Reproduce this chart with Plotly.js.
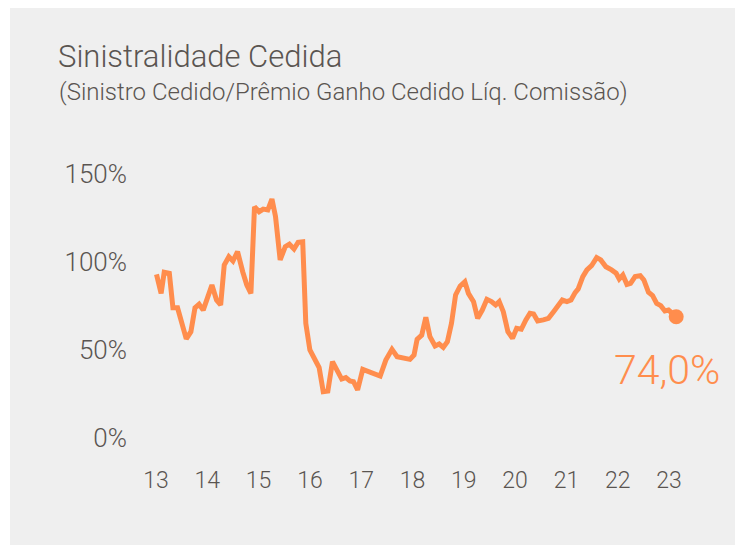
<!DOCTYPE html>
<html>
<head>
<meta charset="utf-8">
<script src="https://cdn.plot.ly/plotly-3.0.1.min.js"></script>
<style>
  html, body { margin: 0; padding: 0; background: #ffffff; }
  #chart { width: 735px; height: 547px; }
</style>
</head>
<body>
<div id="chart"></div>
<script>
// Period in decimal years (13 = 2013)
const periods = [
  13.01, 13.10, 13.16, 13.26, 13.33, 13.42, 13.59, 13.68, 13.76, 13.84, 13.92,
  14.01, 14.09, 14.18, 14.26, 14.33, 14.42, 14.50, 14.59, 14.69, 14.77, 14.85, 14.92,
  15.01, 15.09, 15.18, 15.26, 15.33, 15.42, 15.52, 15.60, 15.69, 15.77, 15.86, 15.92,
  16.00, 16.10, 16.18, 16.26, 16.35, 16.44, 16.54, 16.62, 16.70, 16.78, 16.85, 16.93,
  17.03, 17.14, 17.27, 17.37, 17.48, 17.60, 17.70, 17.85, 17.95,
  18.03, 18.09, 18.18, 18.26, 18.34, 18.44, 18.52, 18.60, 18.68, 18.76, 18.84, 18.93,
  19.02, 19.09, 19.19, 19.27, 19.36, 19.45, 19.54, 19.62, 19.69, 19.77, 19.86, 19.95,
  20.03, 20.12, 20.21, 20.29, 20.36, 20.44, 20.55, 20.65, 20.75, 20.84, 20.92,
  21.01, 21.09, 21.17, 21.23, 21.32, 21.40, 21.49, 21.59, 21.67, 21.77, 21.88, 21.97,
  22.03, 22.10, 22.18, 22.25, 22.34, 22.44, 22.51, 22.60, 22.68, 22.76, 22.84, 22.92, 22.99,
  23.05, 23.14
];
// Sinistralidade cedida (%)
const values = [
  98.1, 87.3, 99.3, 98.7, 79.1, 79.1, 61.4, 65.5, 79.1, 81.1, 77.8,
  85.4, 92.0, 83.5, 80.7, 103.4, 108.1, 105.7, 111.0, 99.6, 92.0, 87.3, 136.5,
  133.7, 135.2, 134.7, 140.9, 130.9, 106.3, 113.8, 115.2, 112.5, 116.3, 116.6, 70.3,
  55.1, 49.4, 45.1, 31.4, 31.8, 48.5, 42.8, 38.6, 39.4, 37.5, 37.1, 32.4,
  44.1, 42.8, 41.9, 40.3, 49.4, 55.5, 51.3, 50.7, 49.8,
  52.3, 61.2, 63.6, 73.7, 62.7, 57.4, 58.5, 56.6, 59.8, 70.3, 86.4, 91.5,
  93.9, 87.3, 82.6, 73.1, 77.8, 83.9, 82.6, 80.7, 82.6, 76.9, 65.5, 61.8,
  67.4, 66.9, 72.2, 76.0, 75.6, 71.6, 72.2, 73.1, 76.9, 80.1, 83.5,
  82.6, 83.5, 87.7, 89.8, 96.8, 100.6, 103.0, 107.6, 106.3, 102.4, 100.6, 98.7,
  95.5, 97.7, 92.4, 93.0, 96.8, 97.3, 94.9, 87.9, 86.0, 81.6, 80.3, 77.3, 77.8,
  76.0, 74.0
];
const xTickVals = [13, 14, 15, 16, 17, 18, 19, 20, 21, 22, 23];
const xTickLabels = ['13', '14', '15', '16', '17', '18', '19', '20', '21', '22', '23'];
const yTickVals = [0, 50, 100, 150];
const yTickLabels = ['0%', '50%', '100%', '150%'];

const orange = '#FF8D4D';
const textGray = '#5a5551';
const fontFam = 'Roboto, "Open Sans", sans-serif';

const lastX = periods[periods.length - 1];
const lastY = values[values.length - 1];

const traces = [
  {
    x: periods, y: values, type: 'scatter', mode: 'lines',
    line: { color: orange, width: 5, shape: 'linear' },
    hoverinfo: 'skip', showlegend: false
  },
  {
    x: [lastX], y: [lastY], type: 'scatter', mode: 'markers',
    marker: { color: orange, size: 15 },
    hoverinfo: 'skip', showlegend: false
  }
];

const L = 140, R = 35, T = 150, B = 87;
const W = 735, H = 547;
const pw = W - L - R, ph = H - T - B;
const px = v => (v - L) / pw;
const py = v => (H - B - v) / ph;

const layout = {
  width: W, height: H,
  margin: { l: L, r: R, t: T, b: B, pad: 0 },
  paper_bgcolor: '#ffffff',
  plot_bgcolor: 'rgba(0,0,0,0)',
  font: { family: fontFam, color: textGray },
  title: {
    text: 'Sinistralidade Cedida',
    font: { family: fontFam, size: 31, color: textGray, weight: 300 },
    x: 58 / W, xanchor: 'left', xref: 'container',
    y: 1 - 56 / H, yanchor: 'middle', yref: 'container'
  },
  xaxis: {
    range: [13 - 16 / 51.3, 23 + 31 / 51.3],
    tickmode: 'array', tickvals: xTickVals, ticktext: xTickLabels,
    showgrid: false, zeroline: false, showline: false, ticks: '',
    tickfont: { family: fontFam, size: 23, color: textGray, weight: 300 },
    ticklabelstandoff: 4,
    fixedrange: true
  },
  yaxis: {
    range: [-13 / 1.76, (447 - 150) / 1.76],
    tickmode: 'array', tickvals: yTickVals, ticktext: yTickLabels,
    showgrid: false, zeroline: false, showline: false, ticks: '',
    tickfont: { family: fontFam, size: 26, color: textGray, weight: 300 },
    ticklabelshift: -9,
    ticklabelstandoff: 12,
    fixedrange: true
  },
  shapes: [{
    type: 'rect', xref: 'paper', yref: 'paper', layer: 'below',
    x0: px(10), x1: px(735), y0: py(545), y1: py(8),
    fillcolor: '#efefef', line: { width: 0 }
  }],
  annotations: [
    {
      text: '(Sinistro Cedido/Prêmio Ganho Cedido Líq. Comissão)',
      xref: 'paper', yref: 'paper', x: px(57), y: py(92),
      xanchor: 'left', yanchor: 'middle', showarrow: false,
      font: { family: fontFam, size: 24, color: textGray, weight: 300 }
    },
    {
      text: lastY.toFixed(1).replace('.', ',') + '%',
      xref: 'paper', yref: 'paper', x: px(722), y: py(370),
      xanchor: 'right', yanchor: 'middle', showarrow: false,
      font: { family: fontFam, size: 41, color: orange, weight: 300 }
    }
  ]
};

Plotly.newPlot('chart', traces, layout, { displayModeBar: false, staticPlot: true });
</script>
</body>
</html>
